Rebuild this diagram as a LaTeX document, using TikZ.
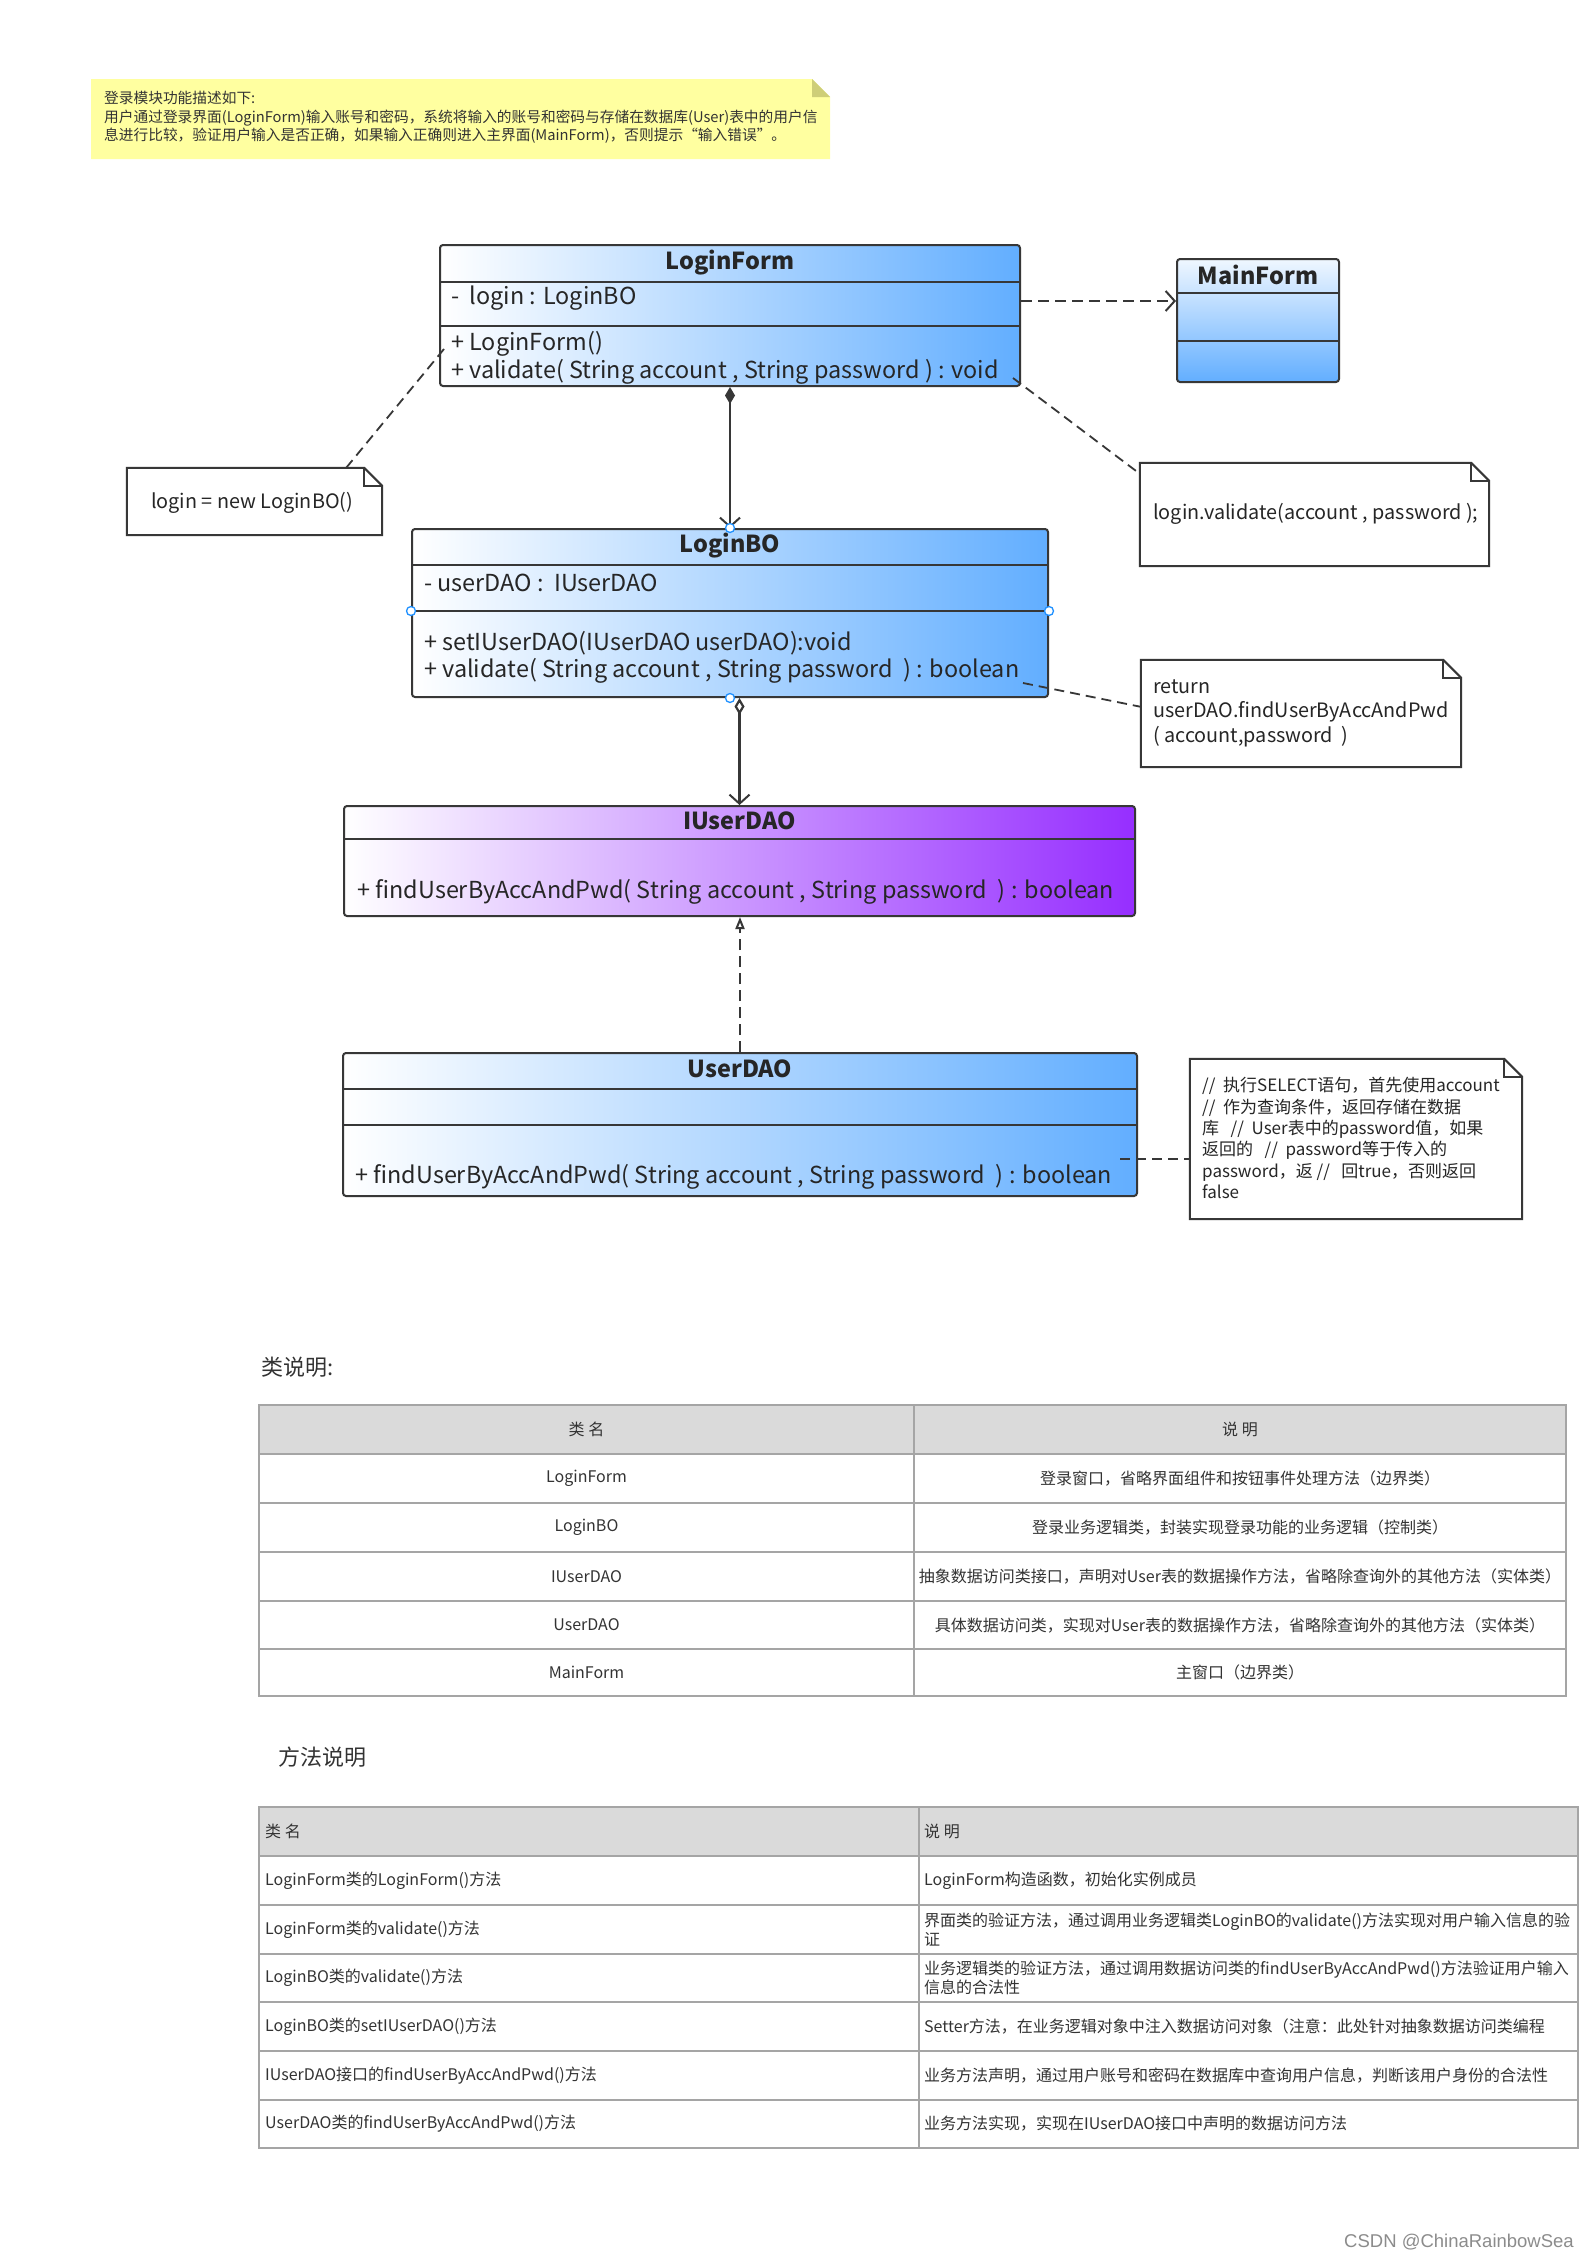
\documentclass[tikz,border=0pt]{standalone}
\usepackage{fontspec}
\setmainfont{Noto Sans CJK SC}
\newfontfamily\wmfont{Liberation Sans}
\usetikzlibrary{arrows.meta}
\definecolor{clsblue}{RGB}{98,174,255}
\definecolor{ifpurple}{RGB}{150,46,255}
\definecolor{edgegray}{RGB}{55,55,55}
\definecolor{notefill}{RGB}{255,255,160}
\definecolor{notefold}{RGB}{206,206,120}
\definecolor{handleblue}{RGB}{30,144,255}
\definecolor{headgray}{RGB}{218,218,218}
\definecolor{rulegray}{RGB}{165,165,165}
\definecolor{txtgray}{RGB}{51,51,51}
\newcommand{\umlfont}{\fontsize{23.4}{28}\selectfont}
\newcommand{\notefont}{\fontsize{19.8}{24.5}\selectfont}
\newcommand{\foldnote}[1]{%
  \draw[notedraw] (#1.south west) -- (#1.north west) -- ([xshift=-18pt]#1.north east)
    -- ([yshift=-18pt]#1.north east) -- (#1.south east) -- cycle;
  \draw[notedraw] ([xshift=-18pt]#1.north east) |- ([yshift=-18pt]#1.north east);}
\begin{document}
\begin{tikzpicture}[x=1pt,y=-1pt,
    cls/.style={draw=edgegray, line width=2pt, rounded corners=3pt, inner sep=0pt,
      left color=white, right color=clsblue},
    iface/.style={cls, right color=ifpurple},
    sep/.style={draw=edgegray, line width=2pt},
    ttl/.style={font=\umlfont\bfseries, text=black!85, inner sep=0pt},
    mbr/.style={font=\umlfont, text=black!85, anchor=west, inner sep=0pt},
    notebox/.style={fill=white, inner sep=0pt},
    notedraw/.style={draw=edgegray, line width=2pt},
    notetext/.style={font=\notefont, text=black!85, anchor=west, inner sep=0pt, align=left},
    conn/.style={draw=edgegray, line width=2.2pt},
    dep/.style={conn, dash pattern=on 11pt off 6pt, -{Straight Barb[length=9pt,width=20pt,line width=2pt]}},
    comp/.style={conn, {Diamond[length=17pt,width=10pt]}-{Straight Barb[length=9pt,width=20pt,line width=2pt]}},
    aggr/.style={conn, {Diamond[open,fill=white,length=17pt,width=10pt]}-{Straight Barb[length=9pt,width=20pt,line width=2pt]}},
    real/.style={conn, dash pattern=on 11pt off 6pt, -{Triangle[open,fill=white,length=12pt,width=9pt,line width=2pt]}},
    link/.style={draw=edgegray, line width=1.8pt, dash pattern=on 10pt off 6pt},
    tblframe/.style={draw=rulegray, line width=2.5pt},
    rowrule/.style={draw=rulegray, line width=1.4pt},
    tcell/.style={font=\fontsize{16}{19}\selectfont, text=txtgray, inner sep=0pt},
    tcellw/.style={tcell, anchor=west, align=left},
    heading/.style={font=\fontsize{22}{26}\selectfont, text=txtgray, anchor=west, inner sep=0pt}]
\useasboundingbox[fill=white] (0,0) rectangle (1588,2259);

\fill[notefill] (91,79) -- (812,79) -- (830,97) -- (830,159) -- (91,159) -- cycle;
\fill[notefold] (812,79) -- (830,97) -- (812,97) -- cycle;
\node[font=\fontsize{14.7}{18.5}\selectfont, text=black!80, anchor=north west, inner sep=0pt, align=left] (spec) at (104,91)
  {登录模块功能描述如下:\\
   用户通过登录界面(LoginForm)输入账号和密码，系统将输入的账号和密码与存储在数据库(User)表中的用户信\\
   息进行比较，验证用户输入是否正确，如果输入正确则进入主界面(MainForm)，否则提示“输入错误”。};

\node[cls, minimum width=580pt, minimum height=141pt] (loginform) at (730,315.5) {};
\node[ttl] (loginformname) at (730,263) {LoginForm};
\draw[sep] (440,282) -- (1020,282);
\node[mbr] (lfattr) at (451,298) {-\ \ login : LoginBO};
\draw[sep] (440,326) -- (1020,326);
\node[mbr] (lfctor) at (451,344) {+ LoginForm()};
\node[mbr] (lfvalidate) at (451,372) {+ validate( String account , String password ) : void};

\node[cls, top color=clsblue!10, bottom color=clsblue, minimum width=162pt, minimum height=123pt] (mainform) at (1258,320.5) {};
\node[ttl] (mainformname) at (1258,275) {MainForm};
\draw[sep] (1177,293) -- (1339,293);
\draw[sep] (1177,341) -- (1339,341);

\node[cls, minimum width=636pt, minimum height=168pt] (loginbo) at (730,613) {};
\node[ttl] (loginboname) at (730,546) {LoginBO};
\draw[sep] (412,565) -- (1048,565);
\node[mbr] (boattr) at (424,583) {- userDAO :\ \ IUserDAO};
\draw[sep] (412,611) -- (1048,611);
\node[mbr] (boset) at (424,643) {+ setIUserDAO(IUserDAO userDAO):void};
\node[mbr] (bovalidate) at (424,671) {+ validate( String account , String password\ \ ) : boolean};

\node[iface, minimum width=791pt, minimum height=110pt] (iuserdao) at (739.5,861) {};
\node[ttl] (iuserdaoname) at (739.5,821) {IUserDAO};
\draw[sep] (344,839) -- (1135,839);
\node[mbr] (ifind) at (357,892) {+ findUserByAccAndPwd( String account , String password\ \ ) : boolean};

\node[cls, minimum width=794pt, minimum height=143pt] (userdao) at (740,1124.5) {};
\node[ttl] (userdaoname) at (740,1069) {UserDAO};
\draw[sep] (343,1089) -- (1137,1089);
\draw[sep] (343,1125) -- (1137,1125);
\node[mbr] (ufind) at (355,1177) {+ findUserByAccAndPwd( String account , String password\ \ ) : boolean};

\node[notebox, minimum width=255pt, minimum height=67pt] (noteone) at (254.5,501.5) {};
\foldnote{noteone}
\node[notetext] (noteonetext) at (151,503) {login = new LoginBO()};
\node[notebox, minimum width=349pt, minimum height=103pt] (notetwo) at (1314.5,514.5) {};
\foldnote{notetwo}
\node[notetext] (notetwotext) at (1153,514) {login.validate(account , password );};
\node[notebox, minimum width=320pt, minimum height=107pt] (notethree) at (1301,713.5) {};
\foldnote{notethree}
\node[notetext] (notethreetext) at (1153,713) {return\\userDAO.findUserByAccAndPwd\\( account,password\ \ )};
\node[notebox, minimum width=332pt, minimum height=160pt] (notefour) at (1356,1139) {};
\foldnote{notefour}
\node[notetext, font=\fontsize{17}{21.3}\selectfont] (notefourtext) at (1202,1138)
  {//\ \ 执行SELECT语句，首先使用account\\
   //\ \ 作为查询条件，返回存储在数据\\
   库\ \ \ //\ \ User表中的password值，如果\\
   返回的\ \ \ //\ \ password等于传入的\\
   password，返 //\ \ \ 回true，否则返回\\
   false};

\draw[dep] ([yshift=14.5pt]loginform.east) -- ([yshift=14.5pt]loginform.east -| mainform.west);
\draw[comp] (loginform.south) -- (loginbo.north);
\draw[aggr] (iuserdao.north |- loginbo.south) -- (iuserdao.north);
\draw[real] (userdao.north) -- (userdao.north |- iuserdao.south);

\coordinate (lfanchor) at (444,349);
\coordinate (lfvalidend) at (1013,378);
\coordinate (bovalidend) at (1023,683);
\coordinate (daofindend) at (1120,1159);
\draw[link] (lfanchor) -- ([xshift=-36pt]noteone.north east);
\draw[link] (lfvalidend) -- ([yshift=-11pt]notetwo.north west);
\draw[link] (bovalidend) -- ([yshift=-47pt]notethree.north west);
\draw[link] (daofindend) -- (daofindend -| notefour.west);

\foreach \h in {(loginbo.north),(loginbo.south),([yshift=2pt]loginbo.west),([yshift=2pt]loginbo.east)}
  \draw[handleblue, fill=white, line width=1.3pt] \h circle (4.5pt);

\node[heading] (classhead) at (261,1367) {类说明:};
\fill[headgray] (259,1405) rectangle (1566,1454);
\foreach \y in {1454,1503,1552,1601,1649}
  \draw[rowrule] (259,\y) -- (1566,\y);
\draw[rowrule] (914,1405) -- (914,1696);
\draw[tblframe] (259,1405) rectangle (1566,1696);
\node[tcell] (ctnamehead) at (586.5,1429.5) {类\ 名};
\node[tcell] (ctdeschead) at (1240,1429.5) {说\ 明};
\node[tcell] (ctname1) at (586.5,1478.5) {LoginForm};
\node[tcell] (ctdesc1) at (1240,1478.5) {登录窗口，省略界面组件和按钮事件处理方法（边界类）};
\node[tcell] (ctname2) at (586.5,1527.5) {LoginBO};
\node[tcell] (ctdesc2) at (1240,1527.5) {登录业务逻辑类，封装实现登录功能的业务逻辑（控制类）};
\node[tcell] (ctname3) at (586.5,1576.5) {IUserDAO};
\node[tcell] (ctdesc3) at (1240,1576.5) {抽象数据访问类接口，声明对User表的数据操作方法，省略除查询外的其他方法（实体类）};
\node[tcell] (ctname4) at (586.5,1625) {UserDAO};
\node[tcell] (ctdesc4) at (1240,1625) {具体数据访问类，实现对User表的数据操作方法，省略除查询外的其他方法（实体类）};
\node[tcell] (ctname5) at (586.5,1672.5) {MainForm};
\node[tcell] (ctdesc5) at (1240,1672.5) {主窗口（边界类）};

\node[heading] (methodhead) at (278,1757) {方法说明};
\fill[headgray] (259,1807) rectangle (1578,1856);
\foreach \y in {1856,1905,1954,2002,2051,2100}
  \draw[rowrule] (259,\y) -- (1578,\y);
\draw[rowrule] (919,1807) -- (919,2148);
\draw[tblframe] (259,1807) rectangle (1578,2148);
\node[tcellw] (mtnamehead) at (265,1831.5) {类\ 名};
\node[tcellw] (mtdeschead) at (924,1831.5) {说\ 明};
\node[tcellw] (mtname1) at (265,1880.5) {LoginForm类的LoginForm()方法};
\node[tcellw] (mtdesc1) at (924,1880.5) {LoginForm构造函数，初始化实例成员};
\node[tcellw] (mtname2) at (265,1929.5) {LoginForm类的validate()方法};
\node[tcellw] (mtdesc2) at (924,1929.5) {界面类的验证方法，通过调用业务逻辑类LoginBO的validate()方法实现对用户输入信息的验\\证};
\node[tcellw] (mtname3) at (265,1978) {LoginBO类的validate()方法};
\node[tcellw] (mtdesc3) at (924,1978) {业务逻辑类的验证方法，通过调用数据访问类的findUserByAccAndPwd()方法验证用户输入\\信息的合法性};
\node[tcellw] (mtname4) at (265,2026.5) {LoginBO类的setIUserDAO()方法};
\node[tcellw] (mtdesc4) at (924,2026.5) {Setter方法，在业务逻辑对象中注入数据访问对象（注意：此处针对抽象数据访问类编程};
\node[tcellw] (mtname5) at (265,2075.5) {IUserDAO接口的findUserByAccAndPwd()方法};
\node[tcellw] (mtdesc5) at (924,2075.5) {业务方法声明，通过用户账号和密码在数据库中查询用户信息，判断该用户身份的合法性};
\node[tcellw] (mtname6) at (265,2124) {UserDAO类的findUserByAccAndPwd()方法};
\node[tcellw] (mtdesc6) at (924,2124) {业务方法实现，实现在IUserDAO接口中声明的数据访问方法};

\node[font=\wmfont\fontsize{18.5}{22}\selectfont, text=black!45, anchor=east, inner sep=0pt] (watermark) at (1574,2242) {CSDN @ChinaRainbowSea};
\end{tikzpicture}
\end{document}
